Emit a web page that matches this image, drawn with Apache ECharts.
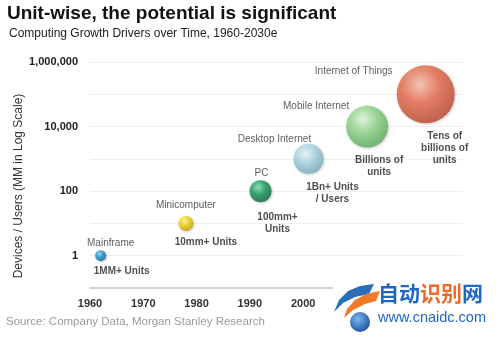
<!DOCTYPE html>
<html>
<head>
<meta charset="utf-8">
<script src="https://cdn.jsdelivr.net/npm/echarts@6/dist/echarts.min.js"></script>
<style>
html,body{margin:0;padding:0;background:#fff;}
#chart{width:498px;height:338px;}
</style>
</head>
<body>
<div id="chart"></div>
<script>
// ---- data ----
const names = ['Mainframe', 'Minicomputer', 'PC', 'Desktop Internet', 'Mobile Internet', 'Internet of Things'];
const years = [1962, 1978, 1992, 2001, 2012, 2023];
const units = [1, 10, 100, 1000, 10000, 100000];
const unitLabels = ['1MM+ Units', '10mm+ Units', '100mm+\nUnits', '1Bn+ Units\n/ Users', 'Billions of\nunits', 'Tens of\nbillions of\nunits'];
const xTicks = [1960, 1970, 1980, 1990, 2000];

// ---- styling (not data) ----
const bubbleSize = [11, 15, 22, 30, 42, 58];
const bubbleColors = [
  ['#8fd6fa', '#1b8ccd', '#0f5f95'],
  ['#fffbb0', '#f2d400', '#c09a00'],
  ['#7fe6b4', '#109a58', '#06603a'],
  ['#f2fbfd', '#a5d6e3', '#6fa6b8'],
  ['#e8fbe2', '#8fd68a', '#55a852'],
  ['#fcc2ad', '#e8694a', '#b8432b']
];
const nameOffset = [[10, -12], [0, -18], [1, -18], [-34, -20], [-51, -20], [-72, -23]];
const unitOffset = [[21, 16], [20, 19], [17, 32], [24, 34], [12, 40], [19, 54]];

const FONT = '"Liberation Sans", Arial, sans-serif';

const bubbleData = names.map((n, i) => ({
  name: n,
  value: [years[i], units[i]],
  symbolSize: bubbleSize[i],
  itemStyle: {
    color: {
      type: 'radial', x: 0.4, y: 0.33, r: 0.72,
      colorStops: [
        {offset: 0, color: bubbleColors[i][0]},
        {offset: 0.45, color: bubbleColors[i][1]},
        {offset: 1, color: bubbleColors[i][2]}
      ]
    },
    shadowColor: 'rgba(0,0,0,0.25)', shadowBlur: 3, shadowOffsetX: 1, shadowOffsetY: 1
  },
  label: {offset: nameOffset[i]}
}));

const unitData = names.map((n, i) => ({
  name: unitLabels[i],
  value: [years[i], units[i]],
  label: {offset: unitOffset[i]}
}));

function fmtNum(v) {
  return String(Math.round(v)).replace(/\B(?=(\d{3})+(?!\d))/g, ',');
}

const chart = echarts.init(document.getElementById('chart'), null, {renderer: 'canvas'});
chart.setOption({
  backgroundColor: '#fff',
  animation: false,
  textStyle: {fontFamily: FONT},
  grid: {left: 90, right: 35, top: 62, bottom: 50, containLabel: false},
  xAxis: {
    type: 'value', min: 1960, max: 2030, interval: 10,
    axisLine: {show: true, lineStyle: {color: '#d4d4d4', width: 2}},
    axisTick: {show: false},
    splitLine: {show: false},
    axisLabel: {
      color: '#333', fontSize: 11, fontWeight: 'bold', fontFamily: FONT, margin: 10,
      formatter: v => xTicks.indexOf(v) >= 0 ? String(v) : ''
    }
  },
  yAxis: {
    type: 'log', logBase: 10, min: 0.1, max: 1000000,
    axisLine: {show: false},
    axisTick: {show: false},
    splitLine: {show: true, lineStyle: {color: '#eeeeee', width: 1}},
    axisLabel: {
      color: '#222', fontSize: 11, fontWeight: 'bold', fontFamily: FONT, margin: 12,
      formatter: v => {
        const e = Math.round(Math.log10(v));
        return (e >= 0 && e % 2 === 0) ? fmtNum(v) : '';
      }
    }
  },
  series: [
    {
      type: 'scatter',
      data: bubbleData,
      silent: true,
      label: {
        show: true, position: 'inside', formatter: '{b}',
        color: '#333', fontSize: 10, fontFamily: FONT, align: 'center', verticalAlign: 'middle'
      },
      z: 3
    },
    {
      type: 'scatter',
      data: unitData,
      symbolSize: 1,
      itemStyle: {color: 'rgba(0,0,0,0)'},
      silent: true,
      label: {
        show: true, position: 'inside', formatter: '{b}',
        color: '#222', fontSize: 10, fontWeight: 'bold', fontFamily: FONT,
        align: 'center', verticalAlign: 'middle', lineHeight: 12
      },
      z: 4
    }
  ],
  graphic: [
    {type: 'text', left: 7, top: 4, style: {text: 'Unit-wise, the potential is significant', font: 'bold 19px ' + FONT, fill: '#111'}},
    {type: 'text', left: 9, top: 28, style: {text: 'Computing Growth Drivers over Time, 1960-2030e', font: '12px ' + FONT, fill: '#222'}},
    {type: 'text', x: 19, y: 186, rotation: Math.PI / 2, style: {text: 'Devices / Users (MM in Log Scale)', font: '12px ' + FONT, fill: '#333', align: 'center', verticalAlign: 'middle'}},
    {type: 'text', left: 6, top: 316, style: {text: 'Source: Company Data, Morgan Stanley Research', font: '11.5px ' + FONT, fill: '#9a9a9a'}},
    // watermark logo
    {type: 'rect', shape: {x: 333, y: 280, width: 165, height: 58}, style: {fill: '#fff'}, z: 10},
    {type: 'polygon', shape: {points: [[374, 284], [360, 286], [348, 291], [339, 300], [334, 312], [343, 303], [355, 297], [369, 294]]}, style: {fill: '#2a6fb5'}, z: 11},
    {type: 'polygon', shape: {points: [[380, 291], [366, 294], [355, 300], [347, 309], [344, 318], [353, 310], [365, 304], [376, 301]]}, style: {fill: '#f07a2a'}, z: 11},
    {type: 'circle', shape: {cx: 360, cy: 322, r: 10},
      style: {fill: {type: 'radial', x: 0.4, y: 0.35, r: 0.7, colorStops: [{offset: 0, color: '#7ab8f0'}, {offset: 1, color: '#1b4f9a'}]}}, z: 11},
    {type: 'text', left: 378, top: 283, z: 11, style: {text: '自动', font: 'bold 21px "Noto Sans CJK SC", sans-serif', fill: '#1f66c4'}},
    {type: 'text', left: 420, top: 283, z: 11, style: {text: '识别', font: 'bold 21px "Noto Sans CJK SC", sans-serif', fill: '#f06a2a'}},
    {type: 'text', left: 462, top: 283, z: 11, style: {text: '网', font: 'bold 21px "Noto Sans CJK SC", sans-serif', fill: '#1f66c4'}},
    {type: 'text', left: 378, top: 310, z: 11, style: {text: 'www.cnaidc.com', font: '14.5px ' + FONT, fill: '#1f66c4'}}
  ]
});
</script>
</body>
</html>
